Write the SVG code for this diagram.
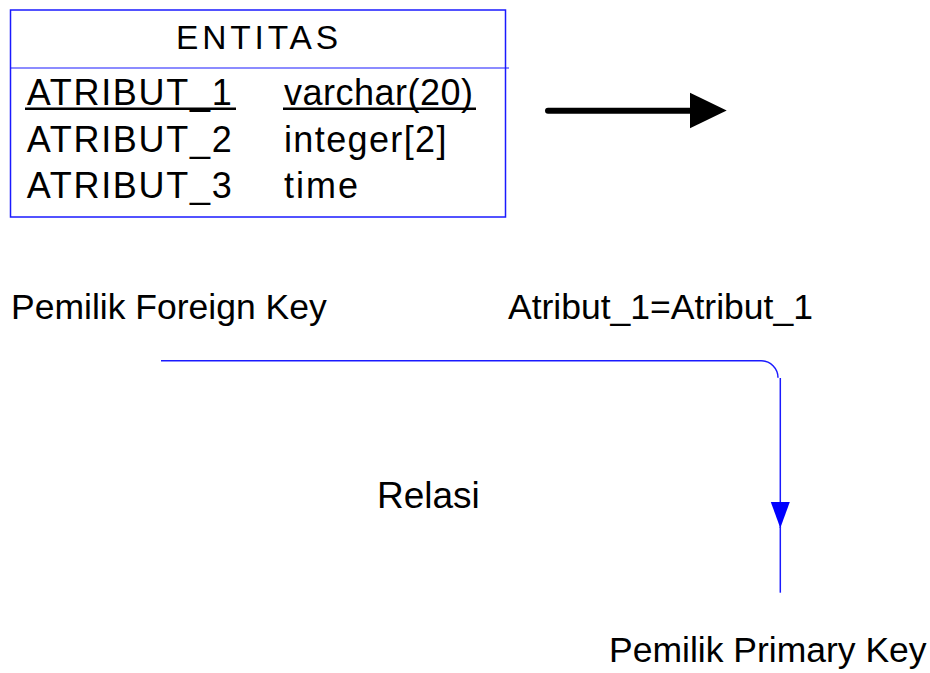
<svg xmlns="http://www.w3.org/2000/svg" width="930" height="673" viewBox="0 0 930 673">
<style>
text{font-family:"Liberation Sans",Arial,sans-serif;fill:#000}
.ent{font-size:36px}
.lbl{font-size:35.5px}
.blue{stroke:#1a1aff;fill:none}
</style>
<defs>
<marker id="bluehead" markerWidth="27" markerHeight="20" refX="26" refY="9.5" orient="auto" markerUnits="userSpaceOnUse" viewBox="0 0 27 20">
<path d="M0,0 L26,9.5 L0,19 Z" fill="#0000ff"/>
</marker>
</defs>
<rect width="930" height="673" fill="#fff"/>
<g id="entitas">
<rect x="10.5" y="10" width="495" height="207" class="blue" stroke-width="1.5"/>
<line x1="10.5" y1="68" x2="509" y2="68" class="blue" stroke-width="1.2" stroke="#6a6aff"/>
<text x="176" y="49.3" font-size="33.5" textLength="162" lengthAdjust="spacing">ENTITAS</text>
<text class="ent" x="26.7" y="105" textLength="205" lengthAdjust="spacing">ATRIBUT_1</text>
<text class="ent" x="284" y="105" textLength="189" lengthAdjust="spacing">varchar(20)</text>
<line x1="25" y1="108.8" x2="236" y2="108.8" stroke="#000" stroke-width="2.6"/>
<line x1="283" y1="108.8" x2="476" y2="108.8" stroke="#000" stroke-width="2.6"/>
<text class="ent" x="26.7" y="151.6" textLength="205" lengthAdjust="spacing">ATRIBUT_2</text>
<text class="ent" x="284" y="151.6" textLength="162.5" lengthAdjust="spacing">integer[2]</text>
<text class="ent" x="26.7" y="198.2" textLength="205" lengthAdjust="spacing">ATRIBUT_3</text>
<text class="ent" x="284" y="198.2" textLength="74" lengthAdjust="spacing">time</text>
</g>
<g id="black-arrow">
<line x1="548" y1="110.7" x2="692" y2="110.7" stroke="#000" stroke-width="6" stroke-linecap="round"/>
<path d="M690,92.7 L726.7,110.6 L690,128.3 Z" fill="#000"/>
</g>
<g id="labels">
<text class="lbl" x="11" y="319">Pemilik Foreign Key</text>
<text class="lbl" x="508" y="319">Atribut_1=Atribut_1</text>
<text x="377" y="507.5" font-size="37">Relasi</text>
<text class="lbl" x="609" y="662">Pemilik Primary Key</text>
</g>
<g id="connectors">
<path d="M161,360.7 H761 A17,17 0 0 1 778,377.7" class="blue" stroke-width="1.5"/>
<line x1="780.3" y1="378" x2="780.3" y2="528" class="blue" stroke-width="1.5" marker-end="url(#bluehead)"/>
<line x1="780.3" y1="527" x2="780.3" y2="592.7" class="blue" stroke-width="1.5"/>
</g>
</svg>
